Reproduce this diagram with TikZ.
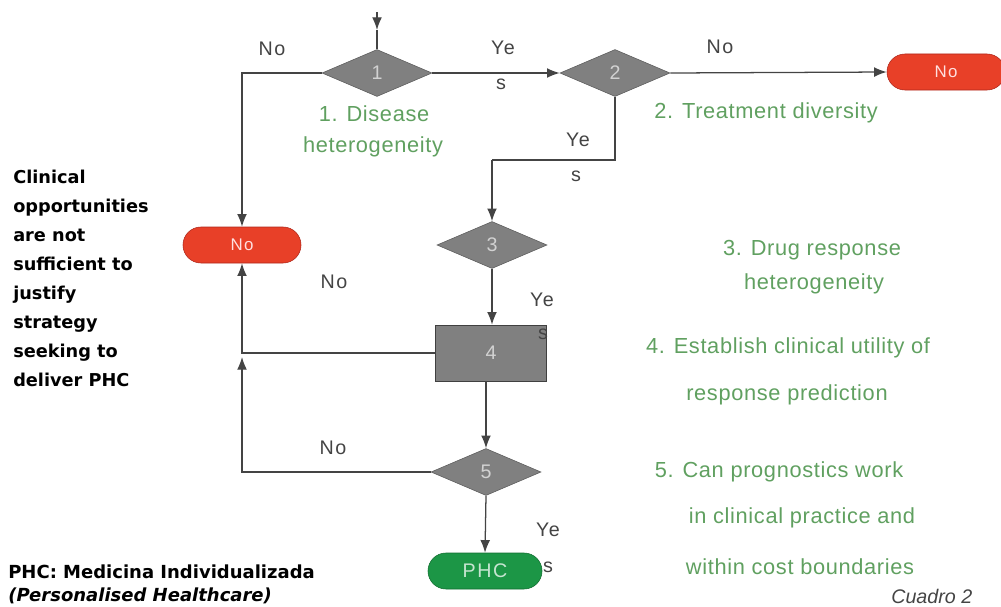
\documentclass[tikz,border=0pt]{standalone}
\usepackage{fontspec}
\setmainfont{Liberation Sans}
\newfontfamily\labelfont[LetterSpace=8]{Liberation Sans}
\newfontfamily\notefont[LetterSpace=3]{Liberation Sans}
\newfontfamily\sidefont{DejaVu Sans}
\usetikzlibrary{calc}
\usetikzlibrary{shapes,arrows,arrows.meta}

\definecolor{boxgray}{RGB}{128,128,128}
\definecolor{edgegray}{RGB}{92,92,92}
\definecolor{numgray}{RGB}{210,210,210}
\definecolor{linegray}{RGB}{68,68,68}
\definecolor{stopred}{RGB}{232,64,40}
\definecolor{stopredline}{RGB}{175,40,28}
\definecolor{phcgreen}{RGB}{28,150,70}
\definecolor{phcgreenline}{RGB}{18,110,48}
\definecolor{notegreen}{RGB}{96,160,96}

\tikzset{
  decision/.style={diamond, fill=boxgray, draw=edgegray, minimum width=2.75cm,
    minimum height=1.175cm, inner sep=0pt, text=numgray,
    font=\labelfont\fontsize{14}{14}\selectfont},
  process/.style={rectangle, fill=boxgray, draw=edgegray!70!black, minimum width=2.775cm,
    minimum height=1.4cm, inner sep=0pt, text=numgray,
    font=\labelfont\fontsize{14}{14}\selectfont},
  stopno/.style={rounded rectangle, fill=stopred, draw=stopredline, minimum width=2.95cm,
    minimum height=0.9cm, inner sep=0pt, text=white!88!red,
    font=\labelfont\fontsize{12}{12}\selectfont},
  stopphc/.style={rounded rectangle, fill=phcgreen, draw=phcgreenline, minimum width=2.85cm,
    minimum height=0.9cm, inner sep=0pt, text=white!75!phcgreen,
    font=\labelfont\fontsize{14}{14}\selectfont},
  answer/.style={inner sep=0pt, text=linegray, font=\labelfont\fontsize{14}{14}\selectfont},
  note/.style={inner sep=0pt, text=notegreen, font=\notefont\fontsize{15.5}{15.5}\selectfont},
  line/.style={draw=linegray, line width=0.9pt},
  flow/.style={line, -{Latex[length=9pt,width=7pt]}}
}

\begin{document}
\begin{tikzpicture}[x=0.025cm, y=-0.025cm]
    \useasboundingbox (0,0) rectangle (1001,606);

    \coordinate (in) at (377,12);
    \coordinate (inarr) at (377,30);
    \coordinate (bend23) at (492,160);
    \coordinate (junc) at (242,357);

    \node [decision] (d1) at (377,73) {1};
    \node [decision] (d2) at (615,73) {2};
    \node [decision] (d3) at (492,245) {3};
    \node [process] (r4) at (491,353) {4};
    \node [decision] (d5) at (486,472) {5};
    \node [stopno] (noL) at (242,245) {No};
    \node [stopno] (noR) at (946,72) {No};
    \node [stopphc] (phc) at (485,571) {PHC};

    \draw [flow] (in) -- (inarr);
    \draw [line] (inarr) -- (d1.north);
    \draw [flow] (d1.east) -- (d2.west);
    \draw [flow] (d2.east) -- (noR.west);
    \draw [flow] (d1.west) -| (noL.north);
    \draw [line] (d2.south) |- (bend23);
    \draw [flow] (bend23) -- (d3.north);
    \draw [flow] (d3.south) -- (d3.south |- r4.north);
    \draw [flow] (d5.north |- r4.south) -- (d5.north);
    \draw [flow] (r4.west) -| (noL.south);
    \draw [flow] (d5.west) -| (junc);
    \draw [flow] (d5.south) -- (phc.north);

    \node [answer] (no1) at (272,49) {No};
    \node [answer] (ye1) at (503,48) {Ye};
    \node [answer] (s1) at (501,84) {s};
    \node [answer] (no2) at (720,47) {No};
    \node [answer] (ye2) at (578,140) {Ye};
    \node [answer] (s2) at (576,176) {s};
    \node [answer] (no4) at (334,282) {No};
    \node [answer] (ye3) at (542,300) {Ye};
    \node [answer] (s3) at (543,334) {s};
    \node [answer] (no5) at (333,448) {No};
    \node [answer] (ye5) at (548,530) {Ye};
    \node [answer] (s5) at (548,567) {s};

    \node [note] (t1a) at (374,114) {1. Disease};
    \node [note] (t1b) at (373,147) {heterogeneity};
    \node [note] (t2) at (766,113) {2. Treatment diversity};
    \node [note] (t3a) at (812,250) {3. Drug response};
    \node [note] (t3b) at (814,284) {heterogeneity};
    \node [note] (t4a) at (788,348) {4. Establish clinical utility of};
    \node [note] (t4b) at (787,395) {response prediction};
    \node [note] (t5a) at (779,472) {5. Can prognostics work};
    \node [note] (t5b) at (802,518) {in clinical practice and};
    \node [note] (t5c) at (800,567) {within cost boundaries};

    \node [anchor=north west, inner sep=0pt, align=left,
      font=\sidefont\bfseries\fontsize{12.6}{20.6}\selectfont] (side) at (13,170)
      {Clinical\\opportunities\\are not\\sufficient to\\justify\\strategy\\seeking to\\deliver PHC};
    \node [anchor=south west, inner sep=0pt, align=left,
      font=\sidefont\bfseries\fontsize{12.8}{16}\selectfont] (legend) at (8,604)
      {PHC: Medicina Individualizada\\{\itshape (Personalised Healthcare)}};
    \node [anchor=south west, inner sep=0pt, text=linegray,
      font=\itshape\fontsize{14}{14}\selectfont] (cuadro) at (891,604) {Cuadro 2};
  \end{tikzpicture}
\end{document}
